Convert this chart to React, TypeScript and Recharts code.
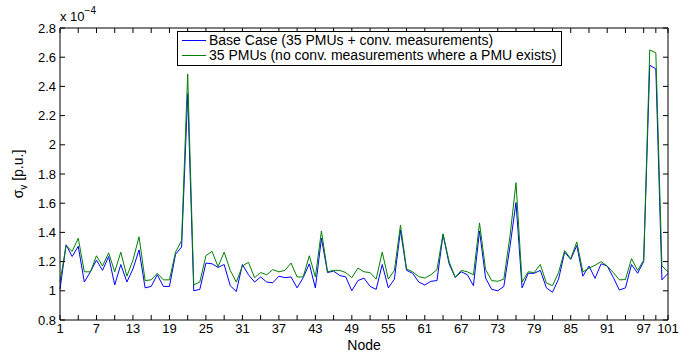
import React from 'react';
import { LineChart, Line, XAxis, YAxis } from 'recharts';

const nodes: number[] = Array.from({ length: 101 }, (_, i) => i + 1);

const baseCase: number[] = [
  1.01, 1.315, 1.235, 1.305, 1.06, 1.13, 1.21, 1.14, 1.235, 1.04,
  1.18, 1.06, 1.15, 1.28, 1.02, 1.03, 1.11, 1.03, 1.03, 1.25,
  1.30, 2.35, 1.00, 1.01, 1.19, 1.185, 1.16, 1.18, 1.035, 0.995,
  1.18, 1.11, 1.06, 1.095, 1.06, 1.055, 1.10, 1.09, 1.095, 1.02,
  1.09, 1.185, 1.02, 1.36, 1.125, 1.135, 1.105, 1.095, 1.0, 1.07,
  1.087, 1.03, 1.01, 1.18, 1.02, 1.08, 1.415, 1.14, 1.12, 1.06,
  1.04, 1.065, 1.07, 1.385, 1.185, 1.092, 1.13, 1.11, 1.035, 1.41,
  1.087, 1.01, 1.0, 1.03, 1.30, 1.605, 1.02, 1.12, 1.12, 1.14,
  1.02, 0.99, 1.08, 1.265, 1.215, 1.31, 1.10, 1.17, 1.085, 1.185,
  1.17, 1.092, 1.005, 1.02, 1.18, 1.12, 1.2, 2.545, 2.52, 1.075,
  1.12,
];

const pmuOnly: number[] = [
  1.06, 1.31, 1.27, 1.36, 1.13, 1.13, 1.24, 1.17, 1.26, 1.13,
  1.265, 1.10, 1.21, 1.37, 1.07, 1.075, 1.12, 1.075, 1.075, 1.265,
  1.345, 2.485, 1.04, 1.06, 1.24, 1.27, 1.165, 1.265, 1.14, 1.06,
  1.17, 1.195, 1.09, 1.125, 1.11, 1.145, 1.13, 1.14, 1.19, 1.095,
  1.095, 1.24, 1.095, 1.41, 1.13, 1.14, 1.14, 1.125, 1.09, 1.155,
  1.13, 1.125, 1.08, 1.265, 1.08, 1.14, 1.45, 1.15, 1.13, 1.097,
  1.087, 1.11, 1.145, 1.39, 1.2, 1.092, 1.14, 1.13, 1.11, 1.465,
  1.145, 1.07, 1.065, 1.08, 1.37, 1.74, 1.06, 1.13, 1.125, 1.18,
  1.053, 1.035, 1.125, 1.275, 1.22, 1.335, 1.13, 1.155, 1.175, 1.2,
  1.17, 1.125, 1.075, 1.077, 1.22, 1.14, 1.21, 2.65, 2.63, 1.17,
  1.13,
];

const xTicks: number[] = [1, 4, 7, 10, 13, 16, 19, 22, 25, 28, 31, 34, 37, 40, 43, 46, 49, 52, 55, 58, 61, 64, 67, 70, 73, 76, 79, 82, 85, 88, 91, 94, 97, 99, 101];
const xLabels: number[] = [1, 7, 13, 19, 25, 31, 37, 43, 49, 55, 61, 67, 73, 79, 85, 91, 97, 101];
const yTicks: number[] = [0.8, 1.0, 1.2, 1.4, 1.6, 1.8, 2.0, 2.2, 2.4, 2.6, 2.8];

const seriesNames = [
  'Base Case (35 PMUs + conv. measurements)',
  '35 PMUs (no conv. measurements where a PMU exists)',
];
const seriesColors = ['#0000FF', '#008000'];

const data = nodes.map((n, i) => ({ node: n, base: baseCase[i], pmu: pmuOnly[i] }));

const FONT = '"Liberation Sans", Arial, Helvetica, sans-serif';

const LegendBox = () => (
  <div
    style={{
      position: 'absolute',
      left: 177,
      top: 31,
      border: '1px solid #000',
      background: '#fff',
      padding: '1px 4px 2px 4px',
      fontFamily: FONT,
      fontSize: 14,
      lineHeight: '15px',
      color: '#000',
      whiteSpace: 'nowrap',
    }}
  >
    {seriesNames.map((name, i) => (
      <div key={name} style={{ display: 'flex', alignItems: 'center' }}>
        <span
          style={{
            display: 'inline-block',
            width: 24,
            height: 0,
            borderTop: `1px solid ${seriesColors[i]}`,
            marginRight: 3,
          }}
        />
        <span>{name}</span>
      </div>
    ))}
  </div>
);

const YLabel = (props: any) => {
  const vb = props.viewBox || {};
  const cx = (vb.x || 0) + 23;
  const cy = (vb.y || 0) + (vb.height || 0) / 2;
  return (
    <text
      x={cx}
      y={cy}
      transform={`rotate(-90 ${cx} ${cy})`}
      textAnchor="middle"
      fontFamily={FONT}
      fontSize={14}
      fill="#000"
    >
      <tspan>σ</tspan>
      <tspan fontSize={10} dy={4}>v</tspan>
      <tspan dy={-4}> [p.u.]</tspan>
    </text>
  );
};

const XLabel = (props: any) => {
  const vb = props.viewBox || {};
  const cx = (vb.x || 0) + (vb.width || 0) / 2;
  const cy = (vb.y || 0) + 30;
  return (
    <text x={cx} y={cy} textAnchor="middle" fontFamily={FONT} fontSize={14} fill="#000">
      Node
    </text>
  );
};

export default function App() {
  return (
    <div style={{ position: 'absolute', left: 0, top: 0, width: 693, height: 353, background: '#fff' }}>
      <LineChart
        width={693}
        height={353}
        data={data}
        margin={{ top: 0, right: 0, bottom: 0, left: 0 }}
        style={{ fontFamily: FONT }}
      >
        <XAxis
          xAxisId="bottom"
          dataKey="node"
          type="number"
          domain={[1, 101]}
          ticks={xTicks}
          interval={0}
          height={33}
          orientation="bottom"
          stroke="#000"
          tickSize={-5}
          tickMargin={9}
          tick={{ fill: '#000', fontSize: 13, fontFamily: FONT }}
          tickFormatter={(v: number) => (xLabels.includes(v) ? String(v) : '')}
          label={<XLabel />}
        />
        <XAxis
          xAxisId="top"
          dataKey="node"
          type="number"
          domain={[1, 101]}
          ticks={xTicks}
          interval={0}
          height={28}
          orientation="top"
          stroke="#000"
          tickSize={-5}
          tickFormatter={() => ''}
        />
        <YAxis
          yAxisId="left"
          type="number"
          domain={[0.8, 2.8]}
          ticks={yTicks}
          interval={0}
          width={60}
          orientation="left"
          stroke="#000"
          tickSize={-5}
          tickMargin={9}
          allowDataOverflow
          tick={{ fill: '#000', fontSize: 13, fontFamily: FONT }}
          tickFormatter={(v: number) => String(Number(v.toFixed(1)))}
          label={<YLabel />}
        />
        <YAxis
          yAxisId="right"
          type="number"
          domain={[0.8, 2.8]}
          ticks={yTicks}
          interval={0}
          width={25}
          orientation="right"
          stroke="#000"
          tickSize={-5}
          allowDataOverflow
          tickFormatter={() => ''}
        />
        <Line
          xAxisId="bottom"
          yAxisId="left"
          type="linear"
          dataKey="base"
          name={seriesNames[0]}
          stroke={seriesColors[0]}
          strokeWidth={1}
          dot={false}
          isAnimationActive={false}
        />
        <Line
          xAxisId="bottom"
          yAxisId="left"
          type="linear"
          dataKey="pmu"
          name={seriesNames[1]}
          stroke={seriesColors[1]}
          strokeWidth={1}
          dot={false}
          isAnimationActive={false}
        />
      </LineChart>
      <LegendBox />
      <div
        style={{
          position: 'absolute',
          left: 60,
          top: 9,
          fontFamily: FONT,
          fontSize: 13,
          color: '#000',
          whiteSpace: 'nowrap',
        }}
      >
        x 10<sup style={{ fontSize: 10, verticalAlign: 'top', position: 'relative', top: -4 }}>−4</sup>
      </div>
    </div>
  );
}
